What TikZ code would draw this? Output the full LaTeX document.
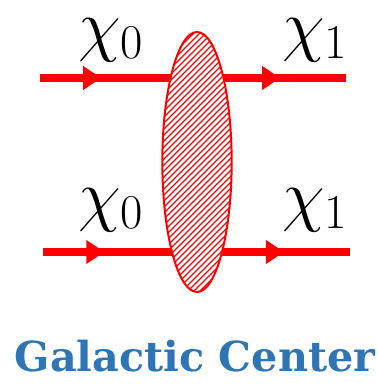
\RequirePackage{fix-cm}
\documentclass[tikz,border=0pt]{standalone}
\usepackage{fontspec}
\newfontfamily\capfont{DejaVu Serif}
\usetikzlibrary{arrows.meta, shapes.geometric, decorations.markings}
\definecolor{gcblue}{RGB}{46,117,182}
\tikzset{
  leg/.style   = {draw=red, line width=6pt, postaction={decorate},
                  decoration={markings,
                    mark=at position 0.2 with {\arrow[red]{Triangle[length=13.5pt, width=17pt]}},
                    mark=at position 0.785 with {\arrow[red]{Triangle[length=13.5pt, width=17pt]}}}},
  blob/.style  = {ellipse, draw=red, line width=1.5pt, inner sep=0pt, fill=white,
                  minimum width=52pt, minimum height=195pt,
                  path picture={
                    \foreach \k in {-300,-294,...,150}
                      \draw[red, line width=1pt] (-150,\k) -- ++(300,300);}},
  chi/.style   = {font=\fontsize{52}{58}\selectfont, inner sep=0pt},
  title/.style = {font=\capfont\bfseries\fontsize{31}{36}\selectfont, text=gcblue,
                  inner sep=0pt, anchor=base},
}

\begin{document}
\begin{tikzpicture}[x=0.75pt, y=0.75pt]
  \useasboundingbox (0,0) rectangle (378,386);

  % incoming and outgoing legs
  \coordinate (inA)  at (40,308);
  \coordinate (outA) at (346,308);
  \coordinate (inB)  at (43,134);
  \coordinate (outB) at (350,134);
  \draw[leg] (inA) -- (outA);
  \draw[leg] (inB) -- (outB);

  % the interaction
  \node[blob] (vertex) at (197,224) {};

  \node[chi] (chiInA)  at (111,346) {$\chi_0$};
  \node[chi] (chiOutA) at (315,346) {$\chi_1$};
  \node[chi] (chiInB)  at (111,176) {$\chi_0$};
  \node[chi] (chiOutB) at (315,176) {$\chi_1$};

  \node[title] (where) at (195,14) {Galactic Center};
\end{tikzpicture}
\end{document}
